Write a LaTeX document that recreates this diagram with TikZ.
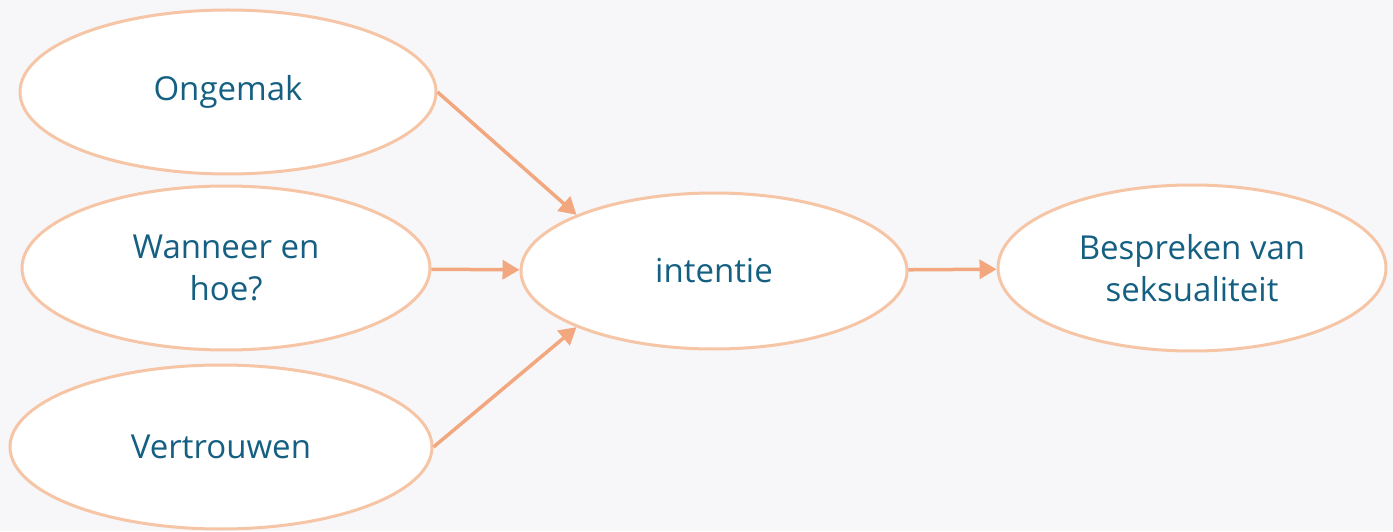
\documentclass[tikz,border=0pt]{standalone}
\usepackage{fontspec}
\setmainfont{Open Sans}
\usetikzlibrary{shapes.geometric,arrows.meta}
\definecolor{txtblue}{HTML}{156082}
\definecolor{peach}{HTML}{F6C5A6}
\definecolor{arrowpeach}{HTML}{F2A77E}
\definecolor{bgpale}{HTML}{F7F7FA}
\tikzset{x=1pt,y=1pt,
    factor/.style={ellipse,draw=peach,line width=3pt,fill=white,
        text=txtblue,align=center,inner sep=0pt,
        font=\fontsize{33}{42}\selectfont},
    link/.style={draw=arrowpeach,line width=3.5pt,
        -{Triangle[length=17pt,width=19pt]}},
    }

\begin{document}
\begin{tikzpicture}
\fill[bgpale] (0,0) rectangle (1393,531);
\useasboundingbox (0,0) rectangle (1393,531);
% factors
\node[factor,minimum width=416pt,minimum height=164pt] (ongemak) at (228,439) {Ongemak};
\node[factor,minimum width=408pt,minimum height=164pt] (wanneer) at (226,263) {Wanneer en\\hoe?};
\node[factor,minimum width=422pt,minimum height=164pt] (vertrouwen) at (221,84) {Vertrouwen};
% intention and behaviour
\node[factor,minimum width=386pt,minimum height=156pt] (intentie) at (714,260) {intentie};
\node[factor,minimum width=388pt,minimum height=166pt] (bespreken) at (1192,263) {Bespreken van\\seksualiteit};
\draw[link] (ongemak.east) -- (intentie.north west);
\draw[link] (wanneer) -- (intentie);
\draw[link] (vertrouwen.east) -- (intentie.south west);
\draw[link] (intentie) -- (bespreken);
\end{tikzpicture}
\end{document}
